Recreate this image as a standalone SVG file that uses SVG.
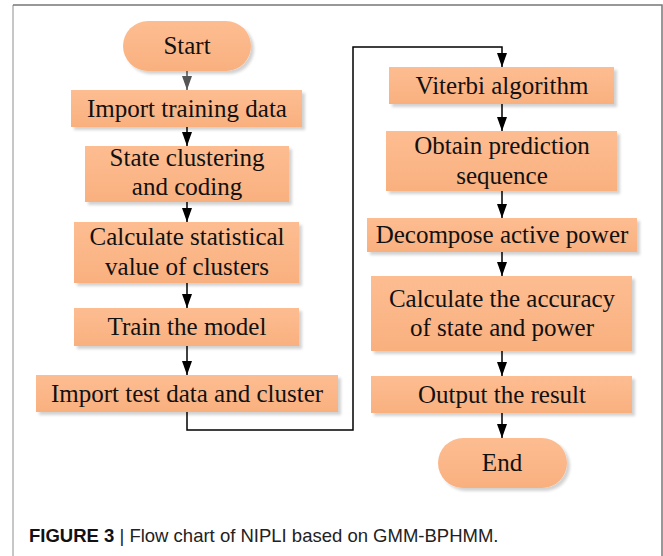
<svg xmlns="http://www.w3.org/2000/svg" width="663" height="556" viewBox="0 0 663 556">
<defs>
<linearGradient id="g" x1="0" y1="0" x2="0" y2="1">
<stop offset="0" stop-color="#FDBD91"/>
<stop offset="1" stop-color="#F9B07F"/>
</linearGradient>
<filter id="sh" x="-10%" y="-20%" width="130%" height="150%">
<feGaussianBlur in="SourceAlpha" stdDeviation="1.5"/>
<feOffset dx="3" dy="3" result="b"/>
<feComponentTransfer><feFuncA type="linear" slope="0.18"/></feComponentTransfer>
<feMerge><feMergeNode/><feMergeNode in="SourceGraphic"/></feMerge>
</filter>
<marker id="ah" viewBox="0 0 14 10" refX="14" refY="5" markerWidth="14" markerHeight="10" markerUnits="userSpaceOnUse" orient="auto">
<path d="M0,0 L14,5 L0,10 Z" fill="#000"/>
</marker>
<marker id="ahg" viewBox="0 0 14 10" refX="14" refY="5" markerWidth="14" markerHeight="10" markerUnits="userSpaceOnUse" orient="auto">
<path d="M0,0 L14,5 L0,10 Z" fill="#555"/>
</marker>
</defs>
<style>
.n{fill:url(#g);filter:url(#sh);}
.t{font-family:"Liberation Serif","Times New Roman",serif;font-size:25px;fill:#111;text-anchor:middle;}
.c{fill:none;stroke:#000;stroke-width:1.5;}
.cap{font-family:"Liberation Sans",Arial,sans-serif;font-size:18.5px;fill:#222;}
</style>
<rect width="663" height="556" fill="#fff"/>
<path d="M13,556 L13,5" stroke="#b4b4b4" stroke-width="1.5" fill="none"/>
<path d="M13,5 L662,5 L662,556" stroke="#777" stroke-width="1.5" fill="none"/>

<g id="connectors">
<path class="c" d="M187,71 V90" style="stroke:#555" marker-end="url(#ahg)"/>
<path class="c" d="M187,127 V146" marker-end="url(#ah)"/>
<path class="c" d="M187,202 V222" marker-end="url(#ah)"/>
<path class="c" d="M187,283 V308" marker-end="url(#ah)"/>
<path class="c" d="M187,346 V375" marker-end="url(#ah)"/>
<path class="c" d="M187,412 V430 H353 V47 H502 V67" marker-end="url(#ah)"/>
<path class="c" d="M502,104 V131" marker-end="url(#ah)"/>
<path class="c" d="M502,191 V218" marker-end="url(#ah)"/>
<path class="c" d="M502,252 V276" marker-end="url(#ah)"/>
<path class="c" d="M502,351 V376" marker-end="url(#ah)"/>
<path class="c" d="M502,413 V438" marker-end="url(#ah)"/>
</g>

<g id="start"><rect class="n" x="123" y="21" width="128" height="50" rx="25"/><text class="t" x="187" y="54">Start</text></g>
<g id="import-training"><rect class="n" x="71" y="90" width="231" height="37"/><text class="t" x="187" y="117">Import training data</text></g>
<g id="state-clustering"><rect class="n" x="85" y="146" width="204" height="56"/><text class="t" x="187" y="166">State clustering</text><text class="t" x="187" y="195">and coding</text></g>
<g id="calc-stat"><rect class="n" x="74" y="222" width="225" height="61"/><text class="t" x="187" y="245">Calculate statistical</text><text class="t" x="187" y="275">value of clusters</text></g>
<g id="train"><rect class="n" x="74" y="308" width="225" height="38"/><text class="t" x="187" y="335">Train the model</text></g>
<g id="import-test"><rect class="n" x="36" y="375" width="302" height="37"/><text class="t" x="187" y="402">Import test data and cluster</text></g>
<g id="viterbi"><rect class="n" x="389" y="67" width="225" height="37"/><text class="t" x="502" y="94">Viterbi algorithm</text></g>
<g id="obtain"><rect class="n" x="386" y="131" width="231" height="60"/><text class="t" x="502" y="154">Obtain prediction</text><text class="t" x="502" y="184">sequence</text></g>
<g id="decompose"><rect class="n" x="367" y="218" width="270" height="34"/><text class="t" x="502" y="243">Decompose active power</text></g>
<g id="calc-acc"><rect class="n" x="371" y="276" width="261" height="75"/><text class="t" x="502" y="307">Calculate the accuracy</text><text class="t" x="502" y="336">of state and power</text></g>
<g id="output"><rect class="n" x="371" y="376" width="261" height="37"/><text class="t" x="502" y="403">Output the result</text></g>
<g id="end"><rect class="n" x="438" y="438" width="129" height="50" rx="25"/><text class="t" x="502" y="471">End</text></g>

<text class="cap" x="29" y="542"><tspan font-weight="bold" fill="#111">FIGURE 3</tspan> | Flow chart of NIPLI based on GMM-BPHMM.</text>
</svg>
